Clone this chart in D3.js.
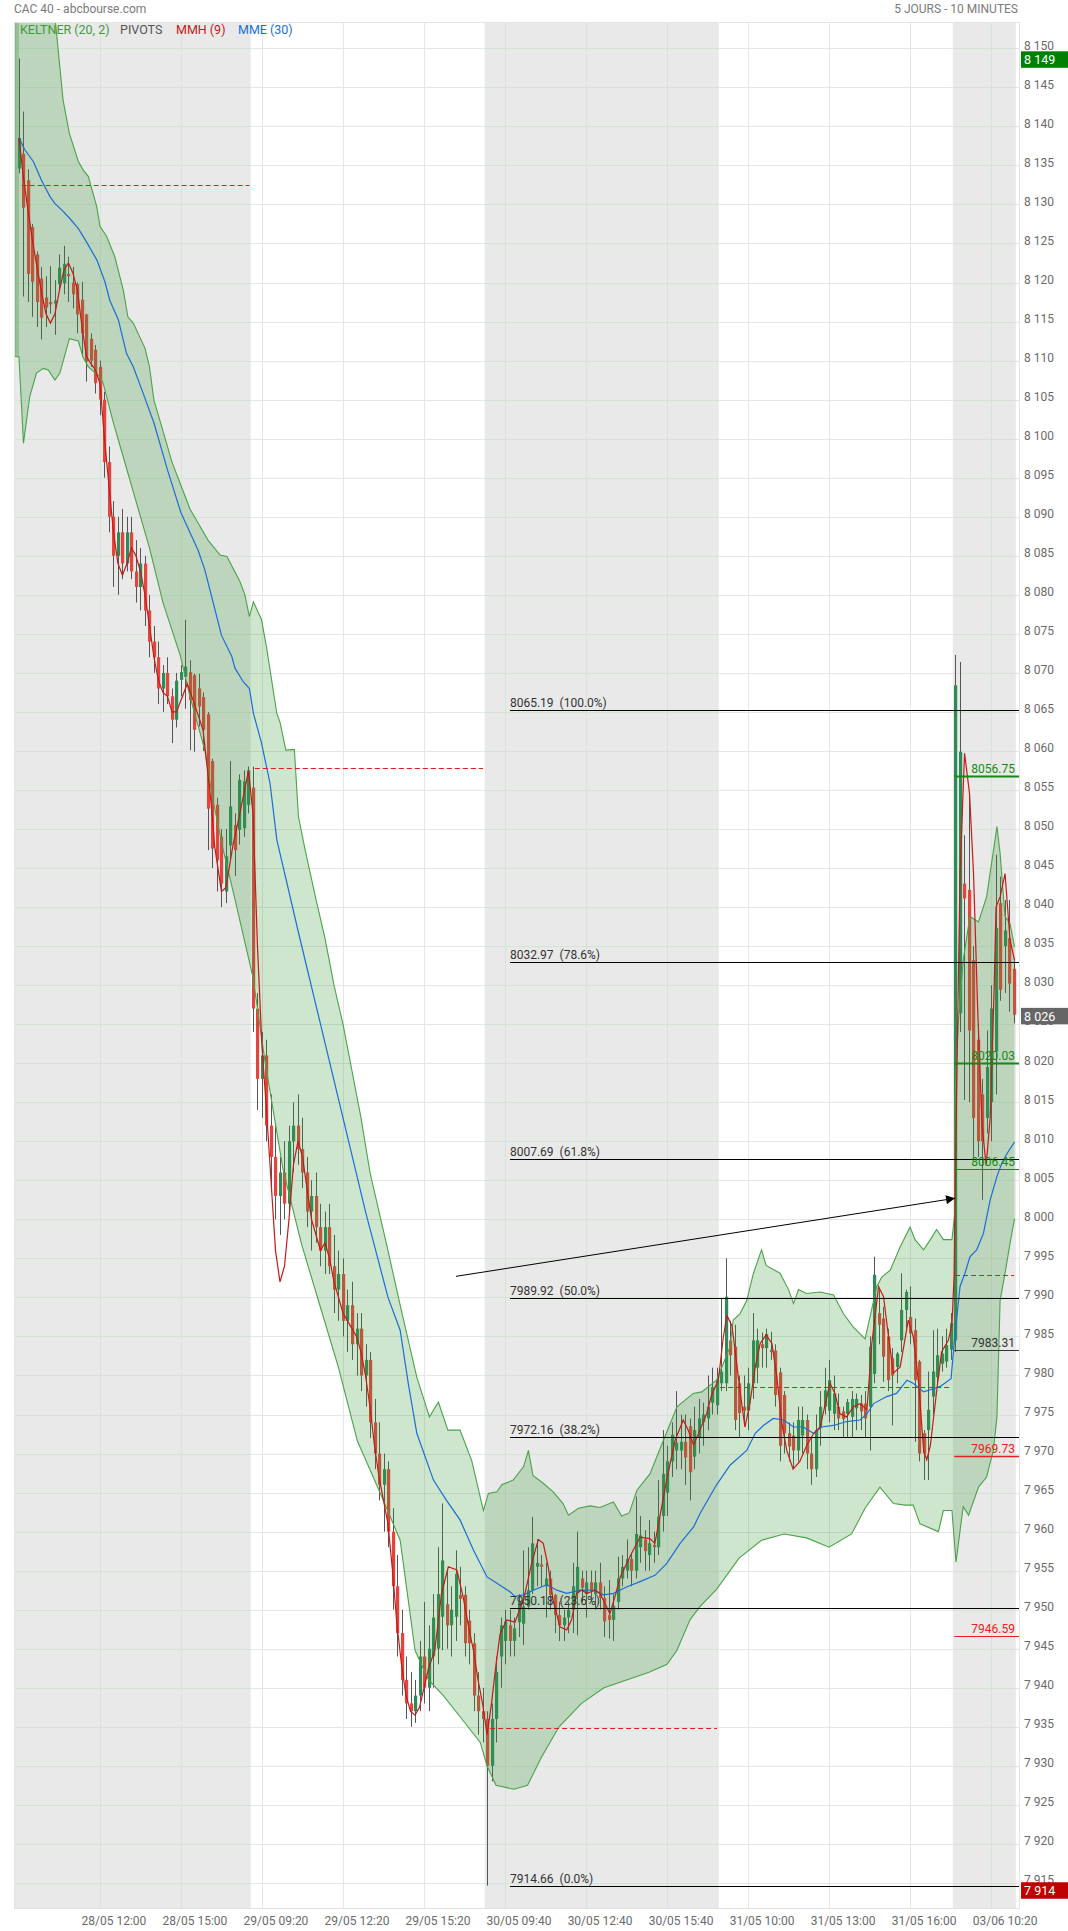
<!DOCTYPE html>
<html><head><meta charset="utf-8">
<script src="https://cdn.jsdelivr.net/npm/d3@7"></script>
<style>body{margin:0;background:#fff}text{font-family:Roboto,"Liberation Sans",sans-serif}</style>
</head><body><svg id="c" width="1068" height="1931"></svg>
<script>
// ---------- DATA ----------
const open = [8134.6,8136.5,8133.1,8127.1,8123.6,8120.5,8118.1,8117.5,8117.3,8119.8,8119.9,8121.1,8120.0,8119.8,8117.8,8115.9,8112.8,8111.4,8109.2,8105.0,
8097,8090,8085,8088,8084,8088,8083,8081,8084,8078,8074,8072,8068,8070,8067,8064,8069.1,8069.5,8070.1,8069.7,
8068,8066.9,8064.7,8058.7,8053.1,8049,8042,8047.9,8050.5,8049.9,8050.1,8053.1,
8055.3,8027,8018,8021,8012,8008,8003,8006,8002,8010,8012,8009,8006,8001,8003,7999,7996,7999,7994,7991,
7993,7987,7989,7984,7986,7980,7982,7974,7970,7966,7968,7960,7953,7947,7941,7938,7937,7939,7944,7940,
7944,7945,7949.1,7950.7,7948,7949.1,7951.9,7951.9,7948.6,7945.7,7939,7937,
7936,7930,7936,7944,7946,7948,7946,7948.4,7948.2,7950.4,7952.5,7955.5,7955.8,7953,7954,7951.9,7949.3,7948,7949,7950,
7952.1,7954,7952,7953.5,7952,7953.5,7951.5,7949.3,7948.7,7951,7954,7955,7956.5,7955,7958,7959,7957,7958.3,7958,7962,
7965,7969,7970.4,7970.4,7971.5,7973.5,7969.6,7972,7974,7974.5,7976.5,7976.2,
7979,7979,7984.5,7983.7,7979,7976,7975.5,7979,7981,7984,7983.5,7983.3,7983.2,7980.4,7977.5,7972.6,7972.3,7970.4,7972.3,7974.3,
7970,7968,7973.4,7976,7975.5,7975.1,7976.0,7975.4,7975.1,7974.7,7975.8,7976.4,7976.4,7976,7980.2,7988,7987.3,7985,7982.2,7981.1,
7984.5,7988.4,7987.5,7985.8,7981.8,7972.6,7973,7977.3,7979.8,7981.5,7981.8,7983.3,
7984.5,8026.4,8043,8042.2,8033.2,8023,8016,8013,8015,8021.5,8040.5,8035,8036,8032.1];
const high = [8148.7,8141.9,8134.5,8127.5,8124.0,8122.0,8120.8,8122.1,8120.3,8123.6,8124.7,8123.3,8122.0,8120.0,8120.1,8116.0,8113.5,8112.0,8110.0,8106.0,
8099,8092,8090,8091,8090,8090,8087,8086,8085,8080,8076,8074,8071,8072,8068,8070,8071,8076.8,8071.6,8069.9,
8069.9,8067.5,8065,8059,8054,8050,8050,8058.7,8052,8057,8057.5,8058,
8058,8029,8024,8023,8016,8012,8008,8010,8012,8015,8016,8013,8008,8005,8006,8002,8001,8002,7998,7996,
7995,7991,7992,7988,7988,7984,7983,7977,7974,7970,7969,7963,7957,7950,7944,7942,7941,7946,7951,7948,
7952,7958,7963.6,7955,7953,7957.6,7955.5,7953,7950,7947,7942,7940,
7937,7938,7944,7949,7950,7950,7949,7952,7957.6,7958,7961.9,7959,7957,7956,7955,7952,7951,7950,7951,7956,
7960,7955,7955,7955,7955,7956,7953,7953.8,7952,7956.8,7957,7959,7957.2,7964.5,7962,7960.2,7961.5,7960,7966.6,7973,
7971,7974,7978,7975,7975,7974.5,7976,7977,7976.5,7980,7981,7981,
7989.9,7995,7987,7986.5,7980,7980,7981,7988,7986,7985.5,7986,7985.6,7984,7981,7978,7974,7974,7976,7976,7975,
7972,7975,7978,7981,7982,7980,7977.7,7976,7977,7978,7977.7,7977.5,7978,7985,7995.2,7991,7988.8,7986,7983.5,7983,
7993.1,7991,7991.4,7987.3,7982,7973,7980.5,7985.8,7986,7985,7986,7988,
8072.3,8071.4,8049.2,8054.6,8035,8025,8018,8024.2,8030,8046.7,8043.9,8040.9,8040.9,8033.2];
const low = [8134.0,8118.2,8117.5,8115.6,8114.3,8112.7,8114.3,8116.0,8113.3,8119.0,8118.5,8117.5,8116.7,8113.5,8110.5,8107.3,8109.2,8105.8,8103.0,8095.0,
8088,8081,8080,8082,8083,8082,8079,8078,8076,8072,8070,8066,8065,8066,8061,8063,8067,8065.4,8060.1,8059.9,
8063.1,8060,8047.3,8045,8042,8040,8040.5,8046,8044,8048,8049,8052,
8024,8014,8013,8010,8004,8000,7998,8000,8001,8006,8007,8004,7999,7996,7997,7994,7993,7993,7988,7987,
7985,7983,7982,7980,7978,7976,7972,7968,7964,7960,7958,7950,7944,7939,7936,7935,7935.5,7937,7938,7937,
7940,7943,7944.8,7945,7944,7946,7948,7944,7943,7937,7934,7933,
7914.66,7928,7933,7940,7943,7944,7944,7946.5,7945.5,7950,7952,7953,7953,7949,7950,7947,7946,7946,7947,7947,
7946.7,7951,7949,7951,7950,7950,7946.5,7946.3,7946,7950,7953,7954,7953,7954,7956,7955,7955,7956,7957,7960,
7962,7967,7968,7968,7966,7964,7968,7970,7971,7973,7975,7975,
7978,7978,7980,7973,7972.1,7973.5,7973,7977,7979,7981,7981,7982,7976,7969,7970,7969,7968,7969,7970,7968,
7966,7967,7971,7975,7974,7973,7973,7972,7972,7972,7973,7973,7972,7970.4,7979,7984,7979.2,7978,7973.6,7979,
7983,7986,7984,7971.5,7969,7966.6,7966.6,7975,7979,7980.5,7981,7982,
7983,8024,8015.3,8015,8008,8008,8002.5,8011,8010,8016,8028,8029,8026.6,8025.1];
const close = [8138.5,8129.6,8121.1,8120.1,8117.5,8115.5,8116.8,8117.2,8117.7,8121.9,8122.4,8120.8,8118.5,8115.9,8113.5,8109.9,8110.0,8107.1,8105.0,8097.0,
8090,8085,8088,8084,8088,8083,8081,8084,8078,8074,8072,8068,8070,8067,8064,8069,8070.1,8070.8,8066.5,8062.7,
8065.7,8062.7,8052.6,8047.5,8046,8043,8046.5,8052.9,8047.3,8056.3,8056.1,8057.5,
8027,8018,8021,8012,8008,8003,8006,8002,8010,8012,8009,8006,8001,8003,7999,7996,7999,7994,7991,7993,
7987,7989,7984,7986,7980,7982,7974,7970,7966,7968,7960,7953,7947,7941,7938,7937,7939,7944,7940,7945,
7949,7952,7956.3,7948,7950,7954.6,7951.4,7945.7,7945.7,7939,7937,7936,
7930,7936,7942,7948,7948.5,7946,7947.6,7951,7950.4,7952.5,7958.5,7956,7955.5,7954,7951.9,7949.3,7948,7949,7950,7953,
7955.5,7952.8,7953.5,7952.5,7953.5,7951.5,7948.5,7948.7,7950.5,7954,7955.5,7956.5,7955,7959.7,7959.5,7957.5,7958.5,7958,7961.9,7967.4,
7969,7972.4,7971.4,7971.5,7969.5,7967.6,7973,7974.5,7975,7976,7978.5,7979.4,
7980.5,7990.1,7982.6,7974.3,7975.2,7975.5,7979,7984.5,7984.5,7983.5,7985.3,7983,7977.5,7971,7972.6,7970.9,7970.4,7974.3,7974.3,7970,
7968,7973,7976,7978.1,7979.4,7977.7,7974.5,7974.4,7976.6,7977,7977,7975.4,7974.5,7983.7,7992.9,7986.5,7982.4,7979.4,7980,7982.8,
7988.4,7990.7,7985.4,7979.4,7970,7970,7975.6,7980.5,7982.6,7982.8,7983.9,7986.7,
8068.4,8059.9,8041.1,8024.2,8013,8010,8010,8019.5,8027,8037.3,8029.4,8037,8030.2,8026.2];

// indicator readings: [bar index, value]
const mmh = [[0,8138.5],[1,8133.5],[2,8129.3],[3,8125.4],[4,8122],[5,8118.8],[6,8116],[7,8114.8],[8,8116],[9,8119],[10,8121.6],[11,8122.5],[12,8121.2],[13,8119],[14,8114.4],[15,8110.5],[16,8109.6],[17,8108.8],[18,8107.1],
[19,8100],[20,8094],[21,8088],[22,8084],[23,8082.5],[24,8084],[25,8086],[26,8085],[27,8083],[28,8080],[29,8076],[30,8072],[31,8069],[32,8067.5],[33,8067],[34,8065],[35,8065],[36,8066.5],[37.4,8068.6],[39,8066],[40.9,8062.7],[42.8,8052.8],[43.5,8047.7],[45,8042],[46,8042.5],[47.6,8048.1],[49.1,8052],[51,8057.5],
[52,8052],[53,8035],[54,8022],[55,8014],[56,8005],[57,7996],[58,7992],[59,7994],[60,8000],[61,8007],[62,8010],[63,8008],[64,8004],[65,8000],[66,7998],[67,7996],[68,7997],[69,7995],[70,7992],[71,7990],[72,7988],[73,7987],[74,7986],[75,7985],[76,7983],[77,7980],[78,7976],[79,7971],[80,7967],[81,7964],[82,7961],[83,7955],[84,7948],[85,7943],[86,7939],[87,7937],[88,7936.5],[89,7937.5],[90,7940],[91,7942.5],[92.4,7944.8],[93.9,7952.1],[95.4,7955.5],[97.3,7955.1],[98.7,7951.6],[100.2,7946.9],[101,7944.8],[102,7941],[103,7938],
[104,7934],[105,7938],[106,7943],[106.9,7946.9],[108.4,7948.7],[110.2,7948.4],[112.1,7951.2],[113.9,7955.9],[115.4,7959],[116.5,7958.5],[117.6,7955.5],[118.7,7951.2],[120.2,7947.8],[121.7,7947.4],[122.8,7948.7],[123.9,7952.1],[125,7952.5],[126.2,7952.1],[128,7952.5],[129.1,7952.1],[130.2,7950.8],[131.3,7949.5],[132.4,7951.6],[133.6,7954.2],[135,7955.9],[136.1,7957.2],[138,7959.3],[140.2,7959.1],[141.3,7958.5],[142.4,7961.9],[143.9,7966.6],[145.8,7971.7],[147.6,7974.3],[148.7,7973],[149.9,7971.1],[151.3,7973],[152.8,7975.1],[153.9,7977.5],[155.4,7979.4],
[156.5,7984.9],[157.3,7987.7],[158.4,7986.4],[159.1,7983.3],[160.2,7978.1],[161.3,7973.4],[162.4,7976.4],[163.6,7981.1],[164.7,7984.1],[166,7985.2],[167.3,7984.1],[168.4,7979.8],[169.5,7973.9],[170.6,7970.4],[172,7968],[173.5,7969],[175,7971],[176.5,7972.5],[178,7973.4],[180.2,7979],[181.3,7977.7],[182.4,7975.1],[183.9,7974.7],[185.4,7976],[186.9,7976.4],[188.4,7975.6],[189.5,7984.1],[191,7991.4],[192.1,7990.1],[193.2,7985],[194.3,7980.3],[195.8,7981.1],[197.6,7987.1],[198.7,7985],[199.9,7979],[201,7970.4],[201.7,7969.2],[202.5,7971],[203.9,7978],[205,7983],[206.5,7984.5],[207.3,7986.5],[207.8,7993],
[208.3,8015],[209.1,8044.3],[210.1,8059.7],[211.2,8054.6],[212.1,8044.3],[213,8027.2],[214,8012],[214.9,8006.9],[215.8,8013],[216.7,8030],[217.1,8040],[218,8041.3],[219.1,8044.3],[220.2,8035.8],[221.2,8033.2]];

const mme = [[0,8138.5],[1.3,8137],[3.2,8135.5],[5,8133.1],[6.9,8131],[8,8130.1],[9.5,8129.3],[11.3,8128.2],[13.2,8126.9],[15,8125.2],[17.3,8122.9],[19.1,8120.1],[20.2,8117.7],[22.1,8115.2],[23.9,8110.9],[25.4,8109.2],[27.6,8105.8],[30,8102],[33,8096],[36,8090.5],[39.8,8085.7],[41.3,8083.2],[43.2,8078.9],[45,8074.8],[47.3,8072.1],[48,8070.6],[49.8,8068.9],[51.2,8068],[52.1,8064.8],[53.9,8061],[55.8,8055.8],[57.3,8048.6],
[62,8037],[67,8025],[72,8013],[77,8001],[82,7990],[84.7,7985.8],[86.5,7979],[88.4,7972.6],[92.1,7966.6],[95,7964],[98,7961.5],[101,7957.6],[104,7954.2],[106.2,7953.4],[109.1,7952.3],[110.2,7951.7],[112.1,7951.9],[114.3,7952.5],[117.3,7953.2],[119.5,7952.5],[121.7,7952.1],[124.7,7952.5],[127.6,7952.5],[129.9,7951.9],[132.1,7952.1],[135,7952.9],[138,7953.6],[141.3,7954.4],[143.9,7955.9],[146.9,7958.5],[149.9,7960.6],[151.3,7962.3],[155,7966],[158,7968.5],[161.7,7970.4],[163.6,7972.6],[165.4,7973.6],[167.6,7974.5],[169.9,7974.3],[172.1,7973.4],[174.3,7973.4],[176.5,7972.6],[178.4,7973.4],[181,7973.6],[183.9,7974.1],[186.9,7974.3],[188.4,7975.1],[189.9,7976.4],[192.8,7977.3],[195,7977.7],[197.3,7979.4],[198.7,7979],[201,7977.9],[203.2,7978.3],[204.7,7978.6],[207.1,7979.6],[208,7985.4],[209.1,7991.4],[210.2,7993.1],[211.3,7995.2],[212.8,7996.1],[214.3,7998.2],[215.8,8002.5],[217.3,8005.5],[218.4,8007.2],[219.5,8008.4],[221.2,8009.9]];

const keltUpper = [[-1.1,8180],[0,8178],[5,8162],[8,8154],[9.8,8143.4],[11.2,8139.1],[13.2,8135.5],[14.3,8134.4],[15.4,8133.6],[17.3,8129.7],[18,8127.2],[19.5,8125.9],[21.3,8123.3],[23.2,8119],[24.2,8115.6],[25.4,8114.8],[28,8111.6],[29,8109.2],[30,8104.9],[32,8101],[34,8097],[36,8094],[38,8091],[40,8089],[42,8087],[44.7,8085.1],[46.2,8084.9],[49.1,8081.7],[50.2,8080],[51.2,8077.2],[52.1,8079.1],[53.9,8076.8],[55,8073.3],[57.3,8064.8],[58,8063.7],[59.3,8060.1],[61.2,8060.2],[62.1,8051.6],[63.6,8047.3],[66,8041],[68,8036],[70,8030],[72,8025],[74,8019],[76,8013],[78,8006],[80,8001],[82,7996],[84.7,7989],[88.4,7979.8],[91.2,7974.7],[93.2,7976.6],[95.3,7973],[98,7973],[100.6,7969.1],[103.2,7962.7],[104.3,7964.9],[106.2,7965.1],[107.3,7966],[109.8,7966.6],[112.1,7968.3],[113.2,7970.4],[114.2,7967.2],[116.5,7966.2],[118.7,7965.1],[120.9,7963.6],[122.1,7962.1],[124.3,7963],[126.9,7963.3],[129.1,7963.1],[132.1,7963.8],[133.9,7962],[135.6,7962.4],[137.3,7965.3],[140.2,7967.4],[143.2,7971.7],[146.2,7976],[149.8,7977.7],[151.7,7977.9],[155,7979.4],[158,7983.7],[158.7,7987.1],[160.2,7987.9],[161.7,7989.6],[163.2,7993.1],[165,7996.1],[166,7994.1],[169.1,7993.1],[171,7991],[172.1,7989.2],[173.2,7991],[175,7990.5],[178,7990.7],[181,7990.3],[183.2,7987.9],[185.4,7986.2],[188,7984.7],[189.1,7987.5],[190.6,7991.4],[191.7,7992.6],[193.6,7993.5],[195.8,7996.5],[198,7999],[199.1,7997.4],[201,7996.1],[202.5,7997.4],[203.9,7998.7],[205.4,7997.4],[207.3,7997.4],[207.9,8000.6],[208,8015.7],[208.7,8025.1],[209.8,8033.2],[211.3,8038.8],[213.2,8038.1],[215,8041.3],[217.3,8050.3],[218,8046.9],[219.1,8038.8],[220.2,8037.9],[221.2,8034.9]];

const keltLower = [[-1.1,8110.5],[0,8110.5],[1,8099.4],[2.4,8105.4],[3.9,8108.4],[5.4,8109],[6.5,8108.8],[8,8107.5],[9.1,8108.4],[11.2,8112.8],[13.2,8112.5],[14.2,8110.5],[15.4,8109.2],[18,8107.9],[18.7,8107.1],[21,8102],[23,8098],[26,8092],[29,8086],[32,8079],[35.8,8072.3],[38,8067],[41.3,8060.1],[43,8054],[45.4,8047.3],[48,8041],[50,8036],[52,8031],[54.6,8020.5],[58.7,8006.3],[62.8,7996.8],[66.9,7988.9],[71,7981],[75.2,7971.6],[80.6,7964.5],[84.7,7958.9],[88,7944.8],[91,7941],[94.3,7939],[98.4,7936],[102.5,7933],[104,7930],[106,7927.5],[110,7927],[113,7927.5],[116,7931],[120,7935],[125,7938],[130,7940],[135,7941],[140,7942],[144,7943],[146.2,7944.8],[149.1,7948.7],[151.3,7950.4],[155,7952.6],[160,7956.6],[165,7958.9],[170,7959.7],[175,7959.2],[180,7958],[185,7959.7],[188,7963],[191.3,7965.7],[194.3,7963.6],[196.9,7963.4],[198.7,7963.4],[200.2,7961],[204.3,7960],[205.4,7962.7],[207.3,7962.7],[208.2,7956.1],[209.8,7963.2],[211,7962.1],[213.2,7965.7],[215,7967],[216.5,7970.4],[217.3,7974.7],[218,7989.6],[219.1,7993.1],[220.2,7996.9],[221.2,8000.1]];

const grayDays = [[-1.1,51.5],[103.5,155.5],[207.5,221.5]];
const xTickIdx = [18,36,54,72,90,108,126,144,162,180,198,216];
const xTickLabels = ["28/05 12:00","28/05 15:00","29/05 09:20","29/05 12:20","29/05 15:20","30/05 09:40","30/05 12:40","30/05 15:40","31/05 10:00","31/05 13:00","31/05 16:00","03/06 10:20"];
const yTicks = d3.range(7915, 8151, 5);
const fibValues = [8065.19, 8032.97, 8007.69, 7989.92, 7972.16, 7950.18, 7914.66];
const fibPct = ["100.0%","78.6%","61.8%","50.0%","38.2%","23.6%","0.0%"];
const fibStartIdx = 109.1;
const dayPivots = [[0.6,51.2,8132.45],[52.4,103.1,8057.76],[104.7,155.1,7934.8],[155.8,207.3,7978.5],[208,221.1,7992.85]];
const levelValues = [8056.75, 8020.03, 8006.45, 7983.31, 7969.73, 7946.59];
const levelKinds = ["r","r","r","p","s","s"];
const arrowFrom = [97.1, 7992.7], arrowTo = [208, 8002.7];
const lastClose = 8026, periodHigh = 8149, periodLow = 7914;

// ---------- CHART ----------
const svg = d3.select('#c');
const L = 14, R = 1019, T = 22, B = 1908;
const x = d3.scaleLinear().domain([-1.1, 222.2]).range([L, R]);
const y = d3.scaleLinear().domain([7911.79, 8153.37]).range([B, T]);
const fmt = v => d3.format(",")(v).replace(/,/g, " ");

const defs = svg.append('defs');
defs.append('clipPath').attr('id','clip').append('rect').attr('x',L).attr('y',T).attr('width',R-L).attr('height',B-T);
const cg = defs.append('clipPath').attr('id','clipGray');
grayDays.forEach(d => cg.append('rect').attr('x',x(d[0])).attr('y',T).attr('width',Math.min(R,x(d[1]))-x(d[0])).attr('height',B-T));

svg.append('text').attr('x',14).attr('y',13).attr('font-size',12).attr('fill','#7a7a7a').text('CAC 40 - abcbourse.com');
svg.append('text').attr('x',1018).attr('y',13).attr('text-anchor','end').attr('font-size',12).attr('fill','#7a7a7a').text('5 JOURS - 10 MINUTES');

const plot = svg.append('g').attr('clip-path','url(#clip)');
plot.selectAll('rect.day').data(grayDays).join('rect')
  .attr('x',d=>x(d[0])).attr('y',T).attr('width',d=>Math.min(R,x(d[1]))-x(d[0])).attr('height',B-T).attr('fill','#e9e9e9');

function grid(g, color){
  g.selectAll('line.h').data(yTicks).join('line').attr('x1',L).attr('x2',R)
    .attr('y1',d=>Math.round(y(d))+0.5).attr('y2',d=>Math.round(y(d))+0.5).attr('stroke',color).attr('stroke-width',1);
  g.selectAll('line.v').data(xTickIdx).join('line').attr('y1',T).attr('y2',B)
    .attr('x1',d=>Math.round(x(d))+0.5).attr('x2',d=>Math.round(x(d))+0.5).attr('stroke',color).attr('stroke-width',1);
}
grid(plot.append('g'), '#e6e6e6');
grid(plot.append('g').attr('clip-path','url(#clipGray)'), '#d3e5d3');

// candles
const idx = d3.range(open.length);
const cndl = plot.append('g');
cndl.selectAll('line').data(idx).join('line')
  .attr('x1',i=>Math.round(x(i))+0.5).attr('x2',i=>Math.round(x(i))+0.5)
  .attr('y1',i=>y(high[i])).attr('y2',i=>y(low[i])).attr('stroke','#555').attr('stroke-width',1);
cndl.selectAll('rect').data(idx).join('rect')
  .attr('x',i=>Math.round(x(i))-1).attr('width',3.2)
  .attr('y',i=>y(Math.max(open[i],close[i])))
  .attr('height',i=>Math.max(1,Math.abs(y(open[i])-y(close[i]))))
  .attr('fill',i=>close[i]>=open[i]?'#2e8b57':'#e2453c');

// Keltner fill + lines
const ln = d3.line().x(d=>x(d[0])).y(d=>y(d[1]));
plot.append('path').attr('d', ln(keltUpper.concat(keltLower.slice().reverse()))+'Z')
  .attr('fill','rgba(60,150,60,0.25)');
plot.append('rect').attr('x',L).attr('y',T).attr('width',x(0)-L).attr('height',y(keltLower[0][1])-T).attr('fill','rgba(60,150,60,0.3)');
plot.append('path').attr('d',ln(keltUpper)).attr('fill','none').attr('stroke','#4aa34a').attr('stroke-width',1.1);
plot.append('path').attr('d',ln(keltLower)).attr('fill','none').attr('stroke','#4aa34a').attr('stroke-width',1.1);
plot.append('line').attr('x1',L+0.5).attr('x2',L+0.5).attr('y1',T).attr('y2',y(keltLower[0][1])).attr('stroke','#4aa34a').attr('stroke-width',1.5);

plot.append('path').attr('d',ln(mme)).attr('fill','none').attr('stroke','#1a6fd4').attr('stroke-width',1.2);
plot.append('path').attr('d',ln(mmh)).attr('fill','none').attr('stroke','#c81818').attr('stroke-width',1.2);

plot.selectAll('line.piv').data(dayPivots).join('line')
  .attr('x1',d=>x(d[0])).attr('x2',d=>x(d[1])).attr('y1',d=>Math.round(y(d[2]))+0.5).attr('y2',d=>Math.round(y(d[2]))+0.5)
  .attr('stroke','#e01c1c').attr('stroke-width',1).attr('stroke-dasharray','5,3');

const fib = plot.append('g');
fib.selectAll('line').data(fibValues).join('line')
  .attr('x1',x(fibStartIdx)).attr('x2',R).attr('y1',d=>Math.round(y(d))+0.5).attr('y2',d=>Math.round(y(d))+0.5)
  .attr('stroke','#000').attr('stroke-width',1);
fib.selectAll('text').data(fibValues).join('text')
  .attr('x',x(fibStartIdx)).attr('y',d=>y(d)-3).attr('font-size',12).attr('fill','#333')
  .style('white-space','pre').text((d,i)=>d.toFixed(2)+'  ('+fibPct[i]+')');

const lvColor = {r:'#138a13', p:'#333', s:'#e82020'};
const lvW = [2,2,1,1,1.5,1];
const lv = plot.append('g');
lv.selectAll('line').data(levelValues).join('line')
  .attr('x1',x(207.8)).attr('x2',R).attr('y1',d=>Math.round(y(d))+0.5).attr('y2',d=>Math.round(y(d))+0.5)
  .attr('stroke',(d,i)=>lvColor[levelKinds[i]]).attr('stroke-width',(d,i)=>lvW[i]);
lv.selectAll('text').data(levelValues).join('text')
  .attr('x',1015).attr('y',d=>y(d)-3).attr('text-anchor','end').attr('font-size',12)
  .attr('fill',(d,i)=>lvColor[levelKinds[i]]).text(d=>d.toFixed(2));

defs.append('marker').attr('id','ah').attr('viewBox','0 0 10 10').attr('refX',10).attr('refY',5)
  .attr('markerWidth',10).attr('markerHeight',9).attr('markerUnits','userSpaceOnUse').attr('orient','auto')
  .append('path').attr('d','M0,0L10,5L0,10Z').attr('fill','#000');
plot.append('line').attr('x1',x(arrowFrom[0])).attr('y1',y(arrowFrom[1])).attr('x2',x(arrowTo[0])).attr('y2',y(arrowTo[1]))
  .attr('stroke','#000').attr('stroke-width',1).attr('marker-end','url(#ah)');

const leg = [['KELTNER (20, 2)','#3f9a3f',20],['PIVOTS','#555',120],['MMH (9)','#c81818',176],['MME (30)','#1a6fd4',238]];
svg.selectAll('text.leg').data(leg).join('text').attr('class','leg').attr('x',d=>d[2]).attr('y',33.5)
  .attr('font-size',12.5).attr('fill',d=>d[1]).text(d=>d[0]);

svg.append('rect').attr('x',L+0.5).attr('y',T+0.5).attr('width',R-L).attr('height',B-T).attr('fill','none').attr('stroke','#e3e3e3');

// right axis labels (skip a label only where a badge sits on it is NOT done: badges drawn on top, like the reference)
svg.selectAll('text.yl').data(yTicks).join('text').attr('class','yl').attr('x',1024).attr('y',d=>y(d)+1.3)
  .attr('font-size',12).attr('fill','#6a6a6a').text(d=>fmt(d));
svg.selectAll('text.xl').data(xTickIdx).join('text').attr('class','xl').attr('x',d=>x(d)+14).attr('y',1925)
  .attr('text-anchor','middle').attr('font-size',12).attr('fill','#6a6a6a').text((d,i)=>xTickLabels[i]);

// value badges; the top one is pushed below the 8 150 label as in the reference
const badges = [[periodHigh,'#008000'],[lastClose,'#666666'],[periodLow,'#c00000']];
badges.forEach((b,i)=>{
  const yy = y(b[0]);
  const top = i===0 ? Math.max(yy-8.5, y(8150)+3) : yy-8.5;
  svg.append('rect').attr('x',1021).attr('y',top).attr('width',47).attr('height',16.5).attr('fill',b[1]);
  svg.append('text').attr('x',1024).attr('y',top+12.8).attr('font-size',12.5).attr('fill','#fff').text(fmt(b[0]));
});
</script></body></html>
